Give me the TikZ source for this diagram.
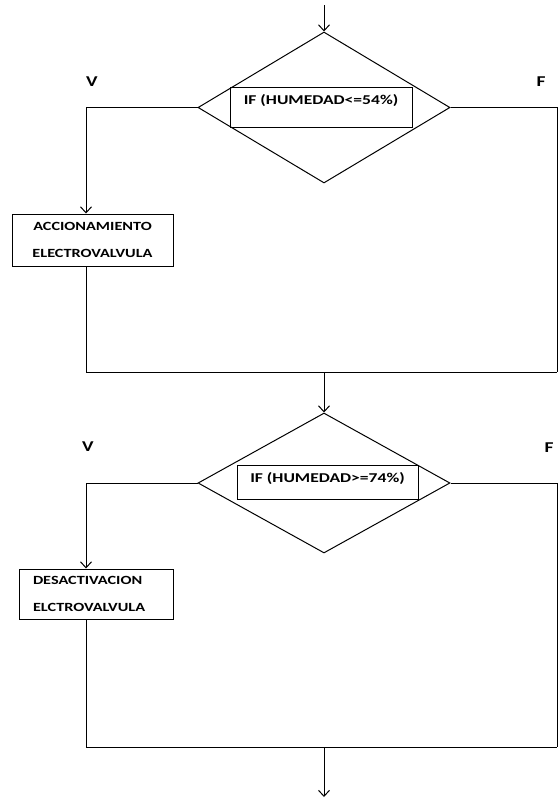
\documentclass[tikz,border=0pt]{standalone}
\usepackage{fontspec}
\setmainfont{Carlito}
\usepackage{graphicx}
\usetikzlibrary{arrows.meta,shapes.geometric,positioning}
\newcommand{\wtext}[1]{\scalebox{1.3}[1]{#1}}

\begin{document}
\begin{tikzpicture}[x=1pt,y=-1pt,>={Straight Barb[length=6pt,width=11pt]},line width=1pt]
        \tikzstyle{decision}=[diamond,draw,inner sep=0pt,minimum width=252pt]
        \tikzstyle{cond}=[rectangle,draw,inner sep=0pt,font=\fontsize{13.5}{16}\selectfont\bfseries]
        \tikzstyle{action}=[rectangle,draw,inner ysep=0pt,font=\fontsize{12.5}{27}\selectfont\bfseries]
        \tikzstyle{branch}=[font=\fontsize{15}{18}\selectfont\bfseries]
        \useasboundingbox (0,0) rectangle (558,798);
        % first test
        \node[decision,minimum height=151pt](dec1) at (324,107.5) {};
        \node[cond,minimum width=182pt,text height=17.5pt,text depth=22.5pt](cond1) at (321,107) {\wtext{IF (HUMEDAD<=54\%)}};
        \node[action,minimum width=161pt,minimum height=52pt,align=center](act) at (92.5,240) {\wtext{ACCIONAMIENTO}\\\wtext{ELECTROVALVULA}};
        \node[branch](v1) at (92,82) {\wtext{V}};
        \node[branch](f1) at (541,82) {\wtext{F}};
        % second test
        \node[decision,minimum height=140pt](dec2) at (324,483) {};
        \node[cond,minimum width=181pt,text height=17.4pt,text depth=16.6pt](cond2) at (327.5,482) {\wtext{IF (HUMEDAD>=74\%)}};
        \node[action,minimum height=50pt,text width=126pt,inner xsep=14pt,align=left](deact) at (96,594) {\wtext{DESACTIVACION}\\\wtext{ELCTROVALVULA}};
        \node[branch](v2) at (88,447) {\wtext{V}};
        \node[branch](f2) at (549,448) {\wtext{F}};
        % joins
        \coordinate (in) at (324,5);
        \coordinate (m1) at (324,372);
        \coordinate (j1) at (557,372);
        \coordinate (m2) at (324,747);
        \coordinate (j2) at (557,747);
        \coordinate (out) at (324,797);
        \draw[->] (in) -- (dec1.north);
        \draw[->] (dec1.west) -| ([xshift=-6.5pt]act.north);
        \draw ([xshift=-6.5pt]act.south) |- (j1);
        \draw (dec1.east) -| (j1);
        \draw[->] (m1) -- (dec2.north);
        \draw[->] (dec2.west) -| ([xshift=-10pt]deact.north);
        \draw ([xshift=-10pt]deact.south) |- (j2);
        \draw (dec2.east) -| (j2);
        \draw[->] (m2) -- (out);
    \end{tikzpicture}
\end{document}
